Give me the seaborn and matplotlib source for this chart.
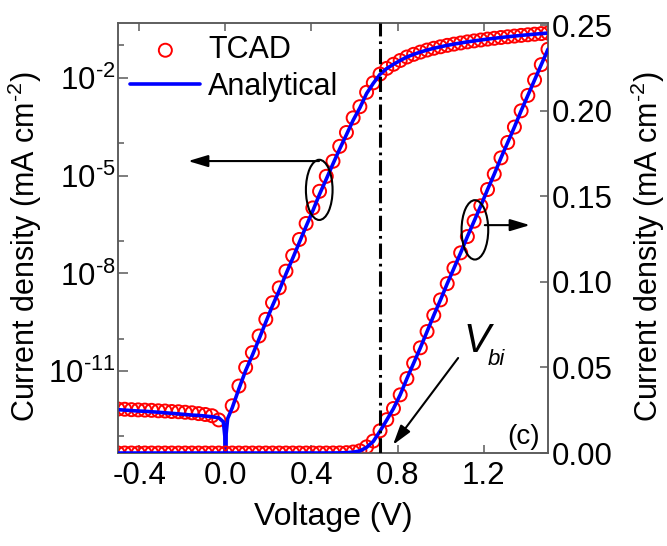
import matplotlib
matplotlib.use("Agg")
import matplotlib.pyplot as plt
from matplotlib.patches import Ellipse
from matplotlib.ticker import FixedLocator, NullFormatter, FuncFormatter
import numpy as np
import pandas as pd
import seaborn as sns

# TCAD points, sampled every 1/32 V from -0.5 V to 1.5 V
tcad_v = [k / 32 for k in range(-16, 49)]
tcad_j = [
    -6.9e-13, -6.8e-13, -6.6e-13, -6.5e-13, -6.4e-13, -6.3e-13, -6.1e-13, -6.0e-13,
    -5.8e-13, -5.7e-13, -5.5e-13, -5.3e-13, -5.0e-13, -4.7e-13, -4.3e-13, -3.2e-13,
    0.0,
    8.7e-13, 3.5e-12, 1.3e-11, 3.7e-11, 1.2e-10, 3.9e-10, 1.26e-9, 3.6e-9,
    1.17e-8, 3.5e-8, 1.1e-7, 3.4e-7, 1.02e-6, 3.3e-6, 9.5e-6, 2.75e-5,
    7.9e-5, 2.1e-4, 5.9e-4, 1.3e-3, 3.6e-3, 7.0e-3, 0.013, 0.0195, 0.026,
    0.034, 0.0435, 0.0525, 0.0615, 0.071, 0.0805, 0.0895, 0.099, 0.108,
    0.117, 0.1265, 0.1355, 0.1445, 0.154, 0.163, 0.1725, 0.1815, 0.1905,
    0.2, 0.209, 0.218, 0.227, 0.236,
]

# analytical curve (extra points around 0 V for the cusp on the log scale)
model_v = [k / 32 for k in range(-16, 0)] + [-0.01, -0.003, 0.0, 0.003, 0.01] + [k / 32 for k in range(1, 49)]
model_j = [
    -6.6e-13, -6.4e-13, -6.2e-13, -6.0e-13, -5.9e-13, -5.7e-13, -5.5e-13, -5.3e-13,
    -5.1e-13, -4.9e-13, -4.7e-13, -4.5e-13, -4.4e-13, -4.2e-13, -4.0e-13, -3.7e-13,
    -2.8e-13, -1.0e-13, 1e-16, 1.2e-13, 3.5e-13,
    7.5e-13, 2.9e-12, 1.05e-11, 3.1e-11, 9.8e-11, 3.2e-10, 1.03e-9, 3.0e-9,
    9.6e-9, 2.9e-8, 9.0e-8, 2.8e-7, 8.4e-7, 2.7e-6, 7.8e-6, 2.3e-5,
    6.6e-5, 1.8e-4, 5.0e-4, 1.2e-3, 3.3e-3, 6.8e-3, 0.0128, 0.0193, 0.026,
    0.034, 0.0435, 0.0525, 0.0615, 0.071, 0.0805, 0.0895, 0.099, 0.108,
    0.117, 0.1265, 0.1355, 0.1445, 0.154, 0.163, 0.1725, 0.1815, 0.1905,
    0.2, 0.209, 0.218, 0.227, 0.236,
]

v_bi = 0.72
x_ticks = [-0.4, 0.0, 0.4, 0.8, 1.2]
log_major = [1e-11, 1e-8, 1e-5, 1e-2]
log_minor = [1e-13, 1e-10, 1e-7, 1e-4, 1e-1]
lin_ticks = [0.0, 0.05, 0.10, 0.15, 0.20, 0.25]

tcad = pd.DataFrame({"V": tcad_v, "J": tcad_j})
model = pd.DataFrame({"V": model_v, "J": model_j})
tcad["absJ"] = tcad.J.abs()
model["absJ"] = model.J.abs()

# -----------------------------

sns.set_theme(style="ticks")
plt.rcParams["font.family"] = ["Liberation Sans", "DejaVu Sans"]
plt.rcParams["mathtext.fontset"] = "custom"
plt.rcParams["mathtext.rm"] = "Liberation Sans"
plt.rcParams["mathtext.it"] = "Liberation Sans:italic"
plt.rcParams["axes.unicode_minus"] = False
plt.rcParams["text.color"] = "black"
plt.rcParams["axes.labelcolor"] = "black"

spine_col = "#5a5a5a"
tick_fs = 22.5
label_fs = 23
ylab = r"Current density (mA cm$^{\text{-}2}$)"

fig = plt.figure(figsize=(6.67, 5.46), dpi=100)
ax = fig.add_axes([0.1769, 0.1703, 0.6447, 0.7875])
ax2 = ax.twinx()

ax.set_yscale("log")

# log-scale data (left axis)
pos_t = tcad[tcad.absJ > 0]
pos_m = model[model.absJ > 0]
sns.scatterplot(x="V", y="absJ", data=pos_t, ax=ax, marker="o", s=88,
                facecolors="none", edgecolor="red", linewidth=1.4,
                label="TCAD", zorder=2)
sns.lineplot(x="V", y="absJ", data=pos_m, ax=ax, color="blue", lw=2.6,
             sort=False, estimator=None, label="Analytical", zorder=3)

# linear-scale data (right axis)
sns.scatterplot(x="V", y="J", data=tcad, ax=ax2, marker="o", s=88,
                facecolors="none", edgecolor="red", linewidth=1.4,
                legend=False, zorder=2)
sns.lineplot(x="V", y="J", data=model, ax=ax2, color="blue", lw=2.6,
             sort=False, estimator=None, legend=False, zorder=3)

for a in (ax, ax2):
    if a.get_legend() is not None:
        a.get_legend().remove()

ax2.axvline(v_bi, color="black", lw=2.2, ls=(0, (5, 1.6, 0.9, 1.6)), zorder=4)

ax.set_xlim(-0.5, 1.5)
ax.set_ylim(10 ** -13.51, 10 ** -0.32)
ax2.set_ylim(0, 0.2513)

ax.xaxis.set_major_locator(FixedLocator(x_ticks))
ax.set_xticklabels([f"{t:.1f}" for t in x_ticks])
ax.yaxis.set_major_locator(FixedLocator(log_major))
ax.yaxis.set_major_formatter(FuncFormatter(
    lambda y, p: r"$10^{\text{-}%d}$" % round(-np.log10(y))))
ax.yaxis.set_minor_locator(FixedLocator(log_minor))
ax.yaxis.set_minor_formatter(NullFormatter())
ax2.yaxis.set_major_locator(FixedLocator(lin_ticks))
ax2.set_yticklabels([f"{t:.2f}" for t in lin_ticks])

ax.tick_params(axis="x", which="both", direction="in", top=True, bottom=True,
               length=6, width=1.1, color=spine_col, labelcolor="black",
               labelsize=tick_fs, pad=6)
ax.tick_params(axis="y", which="major", direction="in", left=True, right=False,
               length=7, width=1.1, color=spine_col, labelcolor="black",
               labelsize=tick_fs, pad=2)
ax.tick_params(axis="y", which="minor", direction="in", left=True, right=False,
               length=4.5, width=1.1, color=spine_col)
ax2.tick_params(axis="y", which="both", direction="in", right=True, left=False,
                length=6, width=1.1, color=spine_col, labelcolor="black",
                labelsize=tick_fs, pad=3)
ax2.minorticks_off()

for a in (ax, ax2):
    for s in a.spines.values():
        s.set_color(spine_col)
        s.set_linewidth(1.1)

ax.set_xlabel("Voltage (V)", fontsize=label_fs, labelpad=8)
ax.set_ylabel(ylab, fontsize=22)
ax2.set_ylabel(ylab, fontsize=22, rotation=90)
ax.yaxis.set_label_coords(-0.172, 0.48)
ax2.yaxis.set_label_coords(1.188, 0.48)

handles, labels = ax.get_legend_handles_labels()
ax2.legend(handles, labels, loc="upper left", frameon=False, fontsize=22,
           handlelength=2.3, handletextpad=0.25, labelspacing=0.22,
           borderaxespad=0.25, borderpad=0.15)

# ellipses and arrows showing which axis each curve belongs to
ax2.add_patch(Ellipse((0.468, 0.612), 0.062, 0.14, transform=ax2.transAxes,
                      fill=False, ec="black", lw=1.5, zorder=5))
ax2.add_patch(Ellipse((0.830, 0.519), 0.062, 0.138, transform=ax2.transAxes,
                      fill=False, ec="black", lw=1.5, zorder=5))
arrow = dict(arrowstyle="-|>,head_length=0.6,head_width=0.18", color="black",
             lw=1.5, mutation_scale=20, shrinkA=0, shrinkB=0)
ax2.annotate("", xy=(0.163, 0.679), xytext=(0.4675, 0.679),
             xycoords="axes fraction", textcoords="axes fraction", arrowprops=arrow)
ax2.annotate("", xy=(0.958, 0.530), xytext=(0.853, 0.530),
             xycoords="axes fraction", textcoords="axes fraction", arrowprops=arrow)
ax2.annotate("", xy=(0.6395, 0.019), xytext=(0.791, 0.221),
             xycoords="axes fraction", textcoords="axes fraction", arrowprops=arrow)

ax2.text(0.803, 0.235, "V", transform=ax2.transAxes, fontsize=29,
         style="italic", ha="left", va="baseline")
ax2.text(0.860, 0.205, "bi", transform=ax2.transAxes, fontsize=16,
         style="italic", ha="left", va="baseline")
ax2.text(0.942, 0.037, "(c)", transform=ax2.transAxes, fontsize=20,
         ha="center", va="center")

path = "out.png"
plt.savefig(path, dpi=100)
print(f"Saved figure to {path}.")
plt.close()
